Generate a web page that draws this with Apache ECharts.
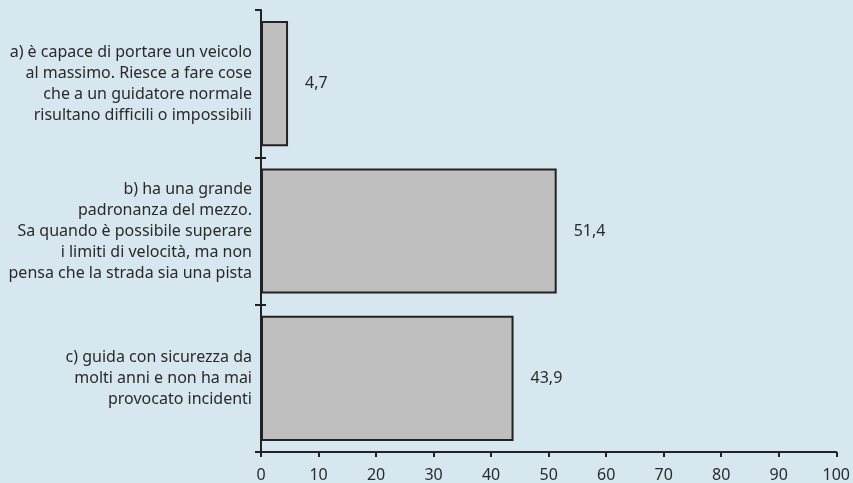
<!DOCTYPE html>
<html>
<head>
<meta charset="utf-8">
<script src="https://cdn.jsdelivr.net/npm/echarts@6/dist/echarts.min.js"></script>
<style>
html,body{margin:0;padding:0;background:#d7e7ef;}
#c{width:853px;height:483px;}
</style>
</head>
<body>
<div id="c"></div>
<script>
var categories = [
  "a) è capace di portare un veicolo\nal massimo. Riesce a fare cose\nche a un guidatore normale\nrisultano difficili o impossibili",
  "b) ha una grande\npadronanza del mezzo.\nSa quando è possibile superare\ni limiti di velocità, ma non\npensa che la strada sia una pista",
  "c) guida con sicurezza da\nmolti anni e non ha mai\nprovocato incidenti"
];
var values = [4.7, 51.4, 43.9];
var xTicks = [0, 10, 20, 30, 40, 50, 60, 70, 80, 90, 100];

var FONT = "Noto Sans";
var chart = echarts.init(document.getElementById('c'));
chart.setOption({
  backgroundColor: '#d7e7ef',
  animation: false,
  grid: { left: 261, right: 16, top: 10, bottom: 30 },
  xAxis: {
    type: 'value',
    min: xTicks[0],
    max: xTicks[xTicks.length - 1],
    interval: xTicks[1] - xTicks[0],
    splitLine: { show: false },
    axisLine: { show: true, lineStyle: { color: '#222', width: 2 } },
    axisTick: { show: true, length: 5, lineStyle: { color: '#222', width: 2 } },
    axisLabel: { color: '#2a2a2a', fontFamily: FONT, fontSize: 16, margin: 15 }
  },
  yAxis: [{
    type: 'category',
    inverse: true,
    data: categories,
    axisLine: { show: true, lineStyle: { color: '#222', width: 2 } },
    axisTick: { show: true, length: 6, lineStyle: { color: '#222', width: 2 } },
    axisLabel: { color: '#2a2a2a', fontFamily: FONT, fontSize: 16, lineHeight: 21, align: 'right', margin: 9 }
  }, {
    type: 'category',
    inverse: true,
    position: 'left',
    data: categories,
    axisLine: { show: false },
    axisLabel: { show: false },
    axisTick: { show: true, inside: true, length: 5, interval: function (i) { return i !== 0; }, lineStyle: { color: '#222', width: 2 } }
  }],
  series: [{
    type: 'bar',
    yAxisIndex: 0,
    data: values,
    barCategoryGap: '15%',
    itemStyle: { color: '#bfbfbf', borderColor: '#222', borderWidth: 2 },
    label: {
      show: true,
      position: 'right',
      distance: 17,
      color: '#2a2a2a',
      fontFamily: FONT,
      fontSize: 16,
      formatter: function (p) { return String(p.value).replace('.', ','); }
    }
  }]
});
</script>
</body>
</html>
